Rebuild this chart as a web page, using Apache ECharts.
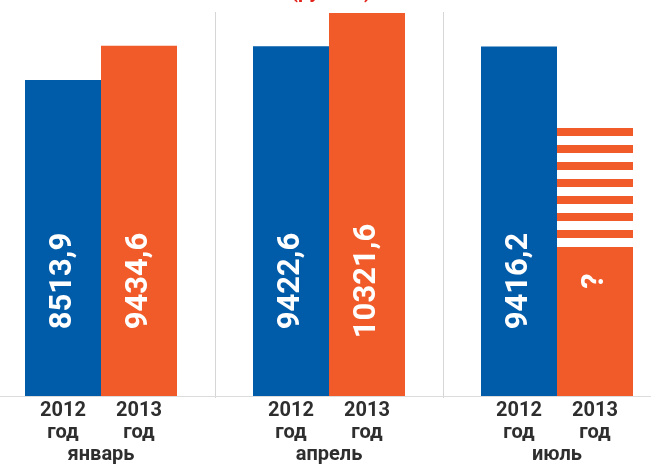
<!DOCTYPE html>
<html>
<head>
<meta charset="utf-8">
<script src="https://cdn.jsdelivr.net/npm/echarts@6/dist/echarts.min.js"></script>
<style>
  html, body { margin: 0; padding: 0; background: #ffffff; }
  #chart { width: 651px; height: 471px; }
</style>
</head>
<body>
<div id="chart"></div>
<script>
// ---- data ----
const months = ['январь', 'апрель', 'июль'];
const years = ['2012', '2013'];
const yearWord = 'год';
const unitText = '(рублей)';
const values2012 = [8513.9, 9422.6, 9416.2];
const values2013 = [9434.6, 10321.6, null];          // July 2013 unknown ("?")
const julySolid2013 = [null, null, 4015];            // solid orange part of the "?" bar
const julyStriped2013 = [null, null, 3207];          // striped part above it
const unknownMark = '?';

// ---- styles ----
const BLUE = '#005ba8';
const ORANGE = '#f15a29';
const RED = '#e2231a';
const TEXT = '#2e2e2e';
const FONT = "Roboto, 'DejaVu Sans Condensed', sans-serif";

function fmt(v) { return v.toFixed(1).replace('.', ','); }

function stripePattern(color) {
  const c = document.createElement('canvas');
  c.width = 8; c.height = 17;
  const ctx = c.getContext('2d');
  ctx.fillStyle = '#ffffff'; ctx.fillRect(0, 0, 8, 17);
  ctx.fillStyle = color; ctx.fillRect(0, 9, 8, 8);
  return c;
}

const valueLabel = {
  show: true,
  position: 'insideBottom',
  distance: 115,
  rotate: 90,
  align: 'center',
  verticalAlign: 'middle',
  color: '#ffffff',
  fontFamily: FONT,
  fontWeight: 'bold',
  fontSize: 31
};

// merge known 2013 values with the visible solid part of July
const bar2013 = values2013.map((v, i) => v != null ? v : julySolid2013[i]);

const chart = echarts.init(document.getElementById('chart'), null, { renderer: 'canvas' });
chart.setOption({
  animation: false,
  backgroundColor: '#ffffff',
  title: {
    text: unitText,
    left: 291,
    top: -17,
    padding: 0,
    textStyle: { color: RED, fontFamily: FONT, fontWeight: 'bold', fontSize: 20 }
  },
  grid: [
    { left: -13, right: -20, top: 0, bottom: 75, outerBoundsMode: 'none', containLabel: false },
    { left: -13, right: -20, top: 12, bottom: 73, outerBoundsMode: 'none', containLabel: false }
  ],
  xAxis: [
    {
      type: 'category',
      gridIndex: 0,
      data: months,
      axisLine: { show: true, lineStyle: { color: '#dcdcdc', width: 1 } },
      axisTick: { show: false },
      splitLine: { show: false },
      axisLabel: {
        margin: 4,
        interval: 0,
        formatter: function (m) {
          return '{y|' + years[0] + '}{y|' + years[1] + '}\n{y|' + yearWord + '}{y|' + yearWord + '}\n{m|' + m + '}';
        },
        rich: {
          y: { width: 76, align: 'center', fontFamily: FONT, fontWeight: 'bold', fontSize: 20, lineHeight: 22, color: TEXT },
          m: { align: 'center', fontFamily: FONT, fontWeight: 'bold', fontSize: 20, lineHeight: 22, color: TEXT }
        }
      }
    },
    {
      type: 'category',
      gridIndex: 1,
      data: months,
      axisLine: { show: false },
      axisTick: { show: false },
      axisLabel: { show: false },
      splitLine: { show: true, lineStyle: { color: '#d6d6d6', width: 1 } }
    }
  ],
  yAxis: [
    { type: 'value', gridIndex: 0, min: 0, max: 10670, show: false, splitLine: { show: false } },
    { type: 'value', gridIndex: 1, min: 0, max: 1, show: false, splitLine: { show: false } }
  ],
  series: [
    {
      name: years[0],
      type: 'bar',
      xAxisIndex: 0, yAxisIndex: 0,
      data: values2012,
      barWidth: 76,
      barGap: '0%',
      itemStyle: { color: BLUE },
      label: Object.assign({}, valueLabel, { formatter: p => fmt(p.value) })
    },
    {
      name: years[1],
      type: 'bar',
      xAxisIndex: 0, yAxisIndex: 0,
      stack: 'y2013',
      data: bar2013,
      barWidth: 76,
      barGap: '0%',
      itemStyle: { color: ORANGE },
      label: Object.assign({}, valueLabel, {
        formatter: p => values2013[p.dataIndex] != null ? fmt(values2013[p.dataIndex]) : unknownMark
      })
    },
    {
      name: years[1] + ' ?',
      type: 'bar',
      xAxisIndex: 0, yAxisIndex: 0,
      stack: 'y2013',
      data: julyStriped2013,
      barWidth: 76,
      barGap: '0%',
      itemStyle: { color: { image: stripePattern(ORANGE), repeat: 'repeat' } },
      label: { show: false }
    }
  ]
});
</script>
</body>
</html>
